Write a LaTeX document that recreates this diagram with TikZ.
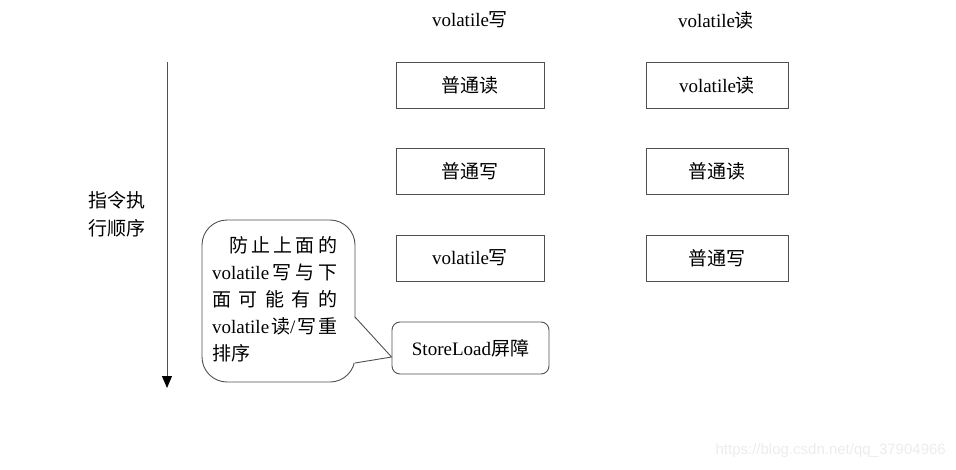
\documentclass[tikz,border=0pt]{standalone}
\usepackage{fontspec}
\setmainfont{Liberation Serif}
\setsansfont{Liberation Sans}
\newfontfamily\cjk{Noto Sans CJK SC}
\usetikzlibrary{arrows.meta}
\newcommand{\zh}[1]{{\cjk #1}}
\definecolor{linegray}{RGB}{80,80,80}
\definecolor{markgray}{RGB}{236,236,236}

\begin{document}
\begin{tikzpicture}[x=1pt, y=-1pt, >=Stealth,
    txt/.style={font=\fontsize{19}{23}\selectfont, inner sep=0pt},
    opbox/.style={txt, draw=linegray, line width=0.9pt, minimum height=46pt},
    barrier/.style={opbox, rounded corners=8pt, minimum width=157pt, minimum height=52pt}]
    \useasboundingbox (0,0) rectangle (956,469);

    % Column headers
    \node[txt] (hw) at (470,20) {volatile\zh{写}};
    \node[txt] (hr) at (716,20) {volatile\zh{读}};

    % volatile write column
    \node[opbox, minimum width=148pt] (w1) at (470,85)  {\zh{普通读}};
    \node[opbox, minimum width=148pt] (w2) at (470,171) {\zh{普通写}};
    \node[opbox, minimum width=148pt] (w3) at (470,258) {volatile\zh{写}};
    \node[barrier] (sl) at (470.5,348) {StoreLoad\zh{屏障}};

    % volatile read column
    \node[opbox, minimum width=142pt] (r1) at (717,85)  {volatile\zh{读}};
    \node[opbox, minimum width=142pt] (r2) at (717,171) {\zh{普通读}};
    \node[opbox, minimum width=142pt] (r3) at (717,258) {\zh{普通写}};

    % Execution order
    \coordinate (start) at (167,62);
    \coordinate (stop) at (167,388);
    \draw[linegray, line width=0.9pt, -{Triangle[length=12pt,width=10pt,black]}] (start) -- (stop);
    \node[txt, align=left] (order) at (117,214) {\zh{指令执}\\[5pt]\zh{行顺序}};

    % Callout with tail to the barrier
    \coordinate (tip) at ([yshift=-9pt]sl.west);
    \draw[linegray, line width=0.9pt, fill=white, rounded corners=25pt] (202,220) rectangle (355,382);
    \fill[white] (353.5,317) -- (tip) -- (353.5,363) -- cycle;
    \draw[linegray, line width=0.9pt] (355,317) -- (tip) -- (355,363);
    \node[txt, anchor=west] (c1) at (229,245) {\hbox to 108pt{\zh{防}\hfill\zh{止}\hfill\zh{上}\hfill\zh{面}\hfill\zh{的}}};
    \node[txt, anchor=west] (c2) at (212,272) {\hbox to 125pt{volatile\hfill\zh{写}\hfill\zh{与}\hfill\zh{下}}};
    \node[txt, anchor=west] (c3) at (212,299) {\hbox to 125pt{\zh{面}\hfill\zh{可}\hfill\zh{能}\hfill\zh{有}\hfill\zh{的}}};
    \node[txt, anchor=west] (c4) at (212,326) {\hbox to 125pt{volatile\hfill\zh{读}/\hfill\zh{写}\hfill\zh{重}}};
    \node[txt, anchor=west] (c5) at (212,353) {\zh{排序}};

    % Watermark
    \node[font=\sffamily\fontsize{15}{17}\selectfont, text=markgray, anchor=east, inner sep=0pt] (mark) at (946,451) {https://blog.csdn.net/qq\_37904966};
\end{tikzpicture}
\end{document}
